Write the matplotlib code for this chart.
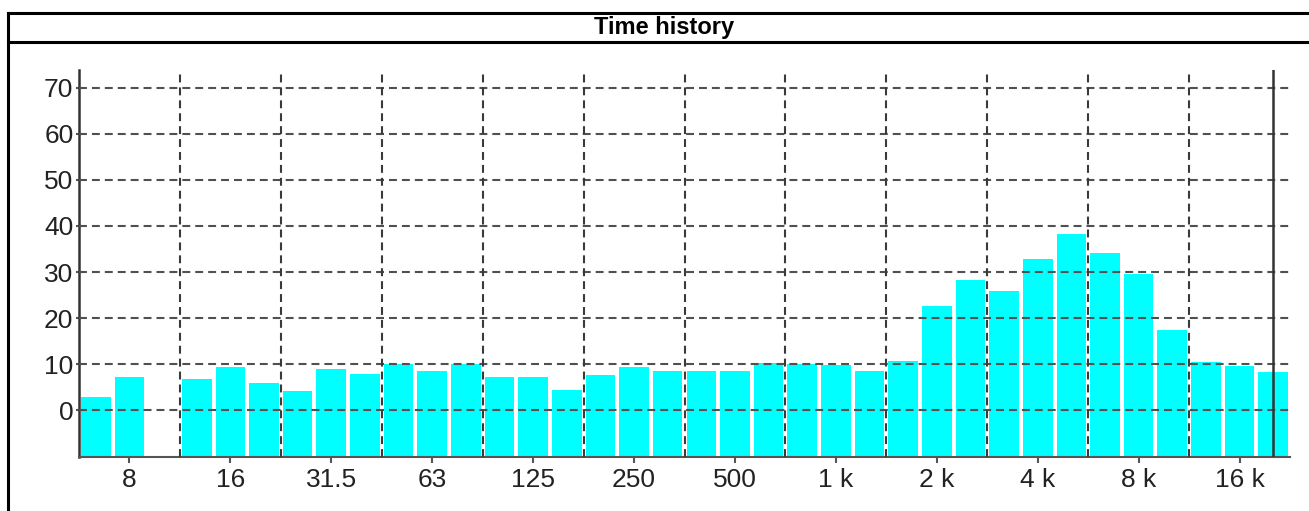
import matplotlib
matplotlib.use("Agg")
import matplotlib.pyplot as plt
import numpy as np
from matplotlib.lines import Line2D

# 1/3-octave bands, 6.3 Hz .. 20 kHz
bands = ["6.3", "8", "10", "12.5", "16", "20", "25", "31.5", "40", "50",
         "63", "80", "100", "125", "160", "200", "250", "315", "400", "500",
         "630", "800", "1 k", "1.25 k", "1.6 k", "2 k", "2.5 k", "3.15 k",
         "4 k", "5 k", "6.3 k", "8 k", "10 k", "12.5 k", "16 k", "20 k"]
levels = [3.0, 7.2, np.nan, 6.8, 9.4, 6.0, 4.3, 8.9, 7.8, 10.0,
          8.6, 10.0, 7.3, 7.3, 4.5, 7.7, 9.4, 8.5, 8.5, 8.5,
          10.3, 10.1, 9.8, 8.5, 10.7, 22.6, 28.3, 25.8, 32.9, 38.3,
          34.1, 29.6, 17.5, 10.5, 9.6, 8.4]
tick_labels = ["8", "16", "31.5", "63", "125", "250", "500",
               "1 k", "2 k", "4 k", "8 k", "16 k"]
y_ticks = [0, 10, 20, 30, 40, 50, 60, 70]
cursor_band = "20 k"
y_min = -10

plt.rcParams['font.family'] = ['Liberation Sans', 'DejaVu Sans']

fig = plt.figure(figsize=(13.09, 5.11), dpi=100)
ax = fig.add_axes([79 / 1309, 1 - 456.5 / 511, (1290 - 79) / 1309, (456.5 - 70) / 511])

x = np.arange(len(bands))
# bars start from the bottom of the axis
heights = [v - y_min for v in levels]
ax.bar(x, heights, width=0.88, bottom=y_min, color='#00ffff', zorder=1)

ax.set_xlim(-0.5, len(bands) - 0.5)
ax.set_ylim(y_min, 73.8)

tick_pos = [bands.index(t) for t in tick_labels]
ax.set_xticks(tick_pos)
ax.set_xticklabels(tick_labels)
ax.set_yticks(y_ticks)

# grid
for yv in y_ticks:
    ax.axhline(yv, color='#505050', lw=1.5, ls=(0, (3.8, 2.4)), zorder=3)
for gx in np.arange(2.5, len(bands) - 1, 3):
    ax.axvline(gx, color='#3a3a3a', lw=1.5, ls=(0, (3.8, 2.4)), zorder=3)

ax.axvline(bands.index(cursor_band), color='#333333', lw=1.8, zorder=4)

for s in ['top', 'right']:
    ax.spines[s].set_visible(False)
ax.spines['left'].set_color('#333333')
ax.spines['left'].set_linewidth(1.8)
ax.spines['bottom'].set_color('#555555')
ax.spines['bottom'].set_linewidth(1.5)
ax.tick_params(axis='both', labelsize=19, colors='#555555', labelcolor='#222222')
ax.tick_params(axis='x', length=4, width=1.5, pad=4)
ax.tick_params(axis='y', length=4, width=1.5, pad=2, direction='inout')

# frame with header
fx = 7.5 / 1309
fig.add_artist(Line2D([fx, fx], [0, 1 - 13.3 / 511], color='black', lw=2.2, transform=fig.transFigure))
fig.add_artist(Line2D([fx, 1], [1 - 13.3 / 511, 1 - 13.3 / 511], color='black', lw=2.2, transform=fig.transFigure))
fig.add_artist(Line2D([fx, 1], [1 - 41.7 / 511, 1 - 41.7 / 511], color='black', lw=2.2, transform=fig.transFigure))
fig.text(664 / 1309, 1 - 27.5 / 511, "Time history", ha='center', va='center',
         fontsize=17, fontweight='bold')

fig.savefig("out.png", dpi=100)
